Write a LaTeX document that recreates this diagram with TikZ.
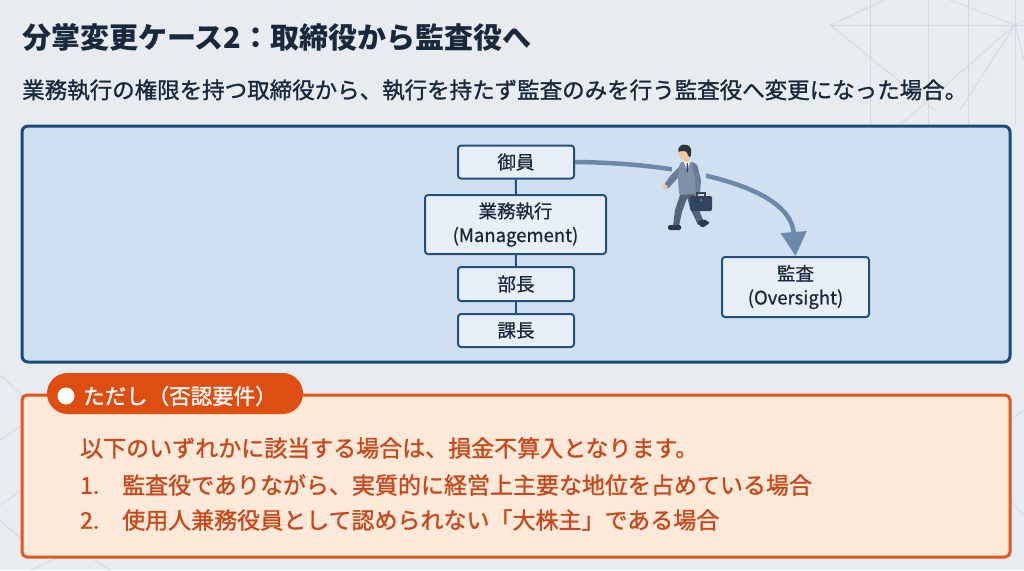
\documentclass[tikz,border=0pt]{standalone}
\usepackage{fontspec}
\setmainfont{Noto Sans CJK JP}
\newfontfamily\medfont{Noto Sans CJK JP}[FakeBold=1.2]
\newfontfamily\boxfont{Noto Sans CJK JP}[FakeBold=0.7]
\usetikzlibrary{arrows.meta}
\definecolor{bg}{HTML}{E8ECF1}
\definecolor{deco}{HTML}{D3D9E1}
\definecolor{ink}{HTML}{18283D}
\definecolor{panel}{HTML}{CFE0F0}
\definecolor{panelline}{HTML}{1D4B7C}
\definecolor{boxfill}{HTML}{E9EFF6}
\definecolor{boxline}{HTML}{23507F}
\definecolor{arrowc}{HTML}{6C89AA}
\definecolor{ofill}{HTML}{FDE9DA}
\definecolor{oline}{HTML}{E2561C}
\definecolor{otab}{HTML}{DE4E12}
\definecolor{otext}{HTML}{C8481B}
\definecolor{suit}{HTML}{7E90A8}
\definecolor{suitdark}{HTML}{6A7C96}
\definecolor{trousers}{HTML}{56627A}
\definecolor{shoe}{HTML}{2E3848}
\definecolor{skin}{HTML}{F2C5A0}
\definecolor{hair}{HTML}{2B3340}
\definecolor{case}{HTML}{33445E}
\begin{document}
\begin{tikzpicture}[x=1pt,y=-1pt,
  orgbox/.style={draw=boxline, line width=2pt, fill=boxfill, rounded corners=3pt,
    inner sep=0pt, align=center, text=ink, font=\boxfont\fontsize{18.5}{24}\selectfont},
  link/.style={draw=boxline, line width=2pt},
  decoline/.style={draw=deco, line width=0.8pt},
  txt/.style={anchor=west, inner sep=0pt},
  otxt/.style={txt, text=otext, font=\medfont\fontsize{23}{28}\selectfont}]
\useasboundingbox (0,0) rectangle (1024,570);
\fill[bg] (0,0) rectangle (1024,570);
% decorative background lines
\draw[decoline] (830,25) -- (1024,25);
\draw[decoline] (830,25) -- (885,0);
\draw[decoline] (830,25) -- (935,110);
\draw[decoline] (870,0) -- (870,125);
\draw[decoline] (928,0) -- (928,125);
\draw[decoline] (968,0) -- (968,125);
\draw[decoline] (1015,0) -- (1015,125);
\draw[decoline] (950,0) -- (1015,25) -- (1024,20);
\draw[decoline] (1015,25) -- (960,110);
\draw[decoline] (1015,25) -- (1024,60);
\draw[decoline] (900,125) -- (1015,25);
\draw[decoline] (0,375) -- (22,395);
\draw[decoline] (0,440) -- (22,425);
\draw[decoline] (0,505) -- (22,490);
\draw[decoline] (0,520) -- (22,540);
\draw[decoline] (30,570) -- (60,557);
\draw[decoline] (110,570) -- (90,557);
\draw[decoline] (1010,420) -- (1024,410);
\draw[decoline] (1010,500) -- (1024,515);
% title and subtitle
\node[txt, text=ink, font=\bfseries\fontsize{29}{34}\selectfont] (title) at (22,37) {分掌変更ケース2：取締役から監査役へ};
\node[txt, text=ink, font=\medfont\fontsize{22.5}{27}\selectfont] (sub) at (22,90) {業務執行の権限を持つ取締役から、執行を持たず監査のみを行う監査役へ変更になった場合。};
% blue panel
\draw[fill=panel, draw=panelline, line width=3pt, rounded corners=6pt] (22,126) rectangle (1010,362);
% org chart
\node[orgbox, minimum width=116pt, minimum height=33pt] (goin) at (516,162) {御員};
\node[orgbox, minimum width=181pt, minimum height=59pt] (gyomu) at (515.5,224.5) {業務執行\\(Management)};
\node[orgbox, minimum width=116pt, minimum height=34pt] (bucho) at (516,284) {部長};
\node[orgbox, minimum width=116pt, minimum height=33pt] (kacho) at (516,330.5) {課長};
\node[orgbox, minimum width=147pt, minimum height=60pt] (kansa) at (795.5,287) {監査\\(Oversight)};
\draw[link] (goin) -- (gyomu);
\draw[link] (gyomu) -- (bucho);
\draw[link] (bucho) -- (kacho);
% move arrow
\draw[draw=arrowc, line width=4.5pt, -{Triangle[width=25pt,length=24pt]}]
  (goin.east) .. controls (680,163) and (790,185) .. (kansa.north);
% halo behind person
\fill[panel] (672,164) rectangle (706,186);
% person
\fill[trousers] (681,192) -- (689,193) -- (682,212) -- (679,226) -- (673,226) -- (675,210) -- cycle;
\fill[trousers] (686,193) -- (696,192) -- (697,205) -- (704,222) -- (698,225) -- (690,208) -- cycle;
\fill[shoe, rounded corners=1.5pt] (668,225) rectangle (681,230);
\fill[shoe, rounded corners=1.5pt] (697,222) -- (704,219) -- (710,223) -- (702,228) -- cycle;
\fill[suitdark, rounded corners=1.5pt] (682,164) -- (687,168) -- (674,182) -- (668,189) -- (664,185) -- (670,176) -- cycle;
\fill[skin] (665,187) circle (2.6);
\fill[suit, rounded corners=2pt] (680,162) -- (695,162) -- (699,175) -- (697,194) -- (679,195) -- (678,178) -- cycle;
\fill[suitdark, rounded corners=1.5pt] (692,163) -- (697,164) -- (701,180) -- (700,194) -- (696,194) -- (695,180) -- cycle;
\fill[skin] (698,195) circle (2.6);
\fill[skin] (684,156) rectangle (689,163);
\fill[white] (684,162) -- (690,162) -- (687,170) -- cycle;
\fill[case] (686.5,163) -- (687.8,163) -- (688,172) -- (686.8,172) -- cycle;
\fill[skin] (684,153) ellipse (5.5 and 6.5);
\fill[hair, rounded corners=2pt] (678,152) -- (679,146) -- (685,144) -- (691,147) -- (691,157) -- (688,157) -- (687,151) -- (680,151) -- cycle;
\draw[case, line width=1.3pt] (697,196) -- (697,193) -- (705,193) -- (705,196);
\fill[case, rounded corners=1.5pt] (690,196) rectangle (712,211);
\fill[suit] (701,200) circle (1);
% orange box
\draw[fill=ofill, draw=oline, line width=3pt, rounded corners=5pt] (22,395) rectangle (1010,557);
\node[fill=otab, rounded corners=20.5pt, minimum width=256pt, minimum height=41pt, inner sep=0pt] (tab) at (175,393.5) {};
\fill[white] (66,396) circle (8.5);
\node[txt, text=white, font=\medfont\fontsize{21.5}{26}\selectfont] (tabtext) at (83,396) {ただし（否認要件）};
\node[otxt] (l1) at (80,448) {以下のいずれかに該当する場合は、損金不算入となります。};
\node[otxt] (l2) at (80,485) {\makebox[42pt][l]{1.}監査役でありながら、実質的に経営上主要な地位を占めている場合};
\node[otxt] (l3) at (80,520) {\makebox[42pt][l]{2.}使用人兼務役員として認められない「大株主」である場合};
\end{tikzpicture}
\end{document}
